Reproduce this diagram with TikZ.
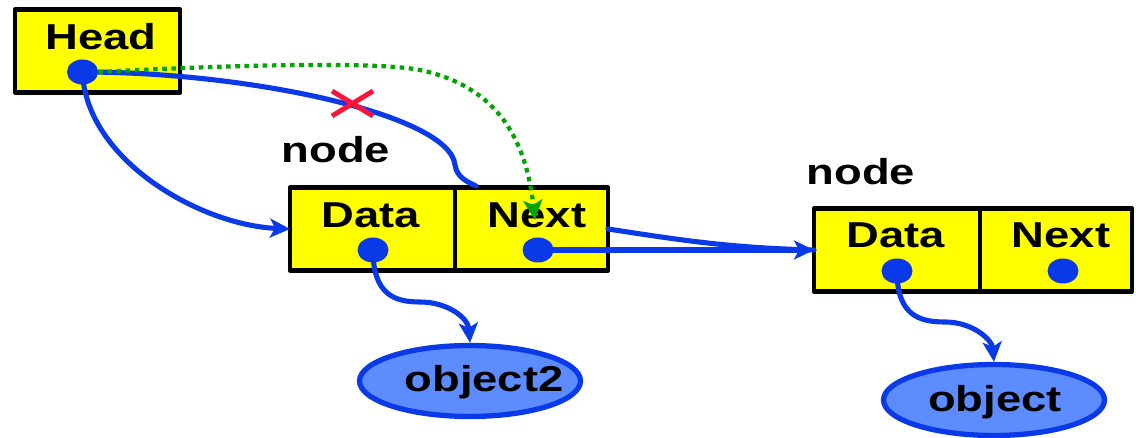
\documentclass[tikz,border=0pt]{standalone}
\usepackage{fontspec}
\setmainfont{Liberation Sans}[FakeStretch=1.26]
\usetikzlibrary{positioning,shapes.geometric,arrows.meta}
\begin{document}
\begin{tikzpicture}[x=0.02cm, y=-0.02cm, >={Stealth[length=0.4cm,width=0.38cm,inset=0.1cm]}, font=\fontsize{20.5}{24}\selectfont\bfseries, line join=round, line cap=round]
	\definecolor{ptr blue}{RGB}{10,58,232}
	\definecolor{cell yellow}{RGB}{255,255,0}
	\definecolor{obj fill}{RGB}{92,140,255}
	\definecolor{new link}{RGB}{0,165,0}
	\definecolor{cut red}{RGB}{250,20,60}
	\tikzset{cell/.style={rectangle, draw=black, fill=cell yellow, line width=2.7pt, inner sep=0pt, outer sep=0pt, minimum height=1.66cm},
		dot/.style={ellipse, fill=ptr blue, inner sep=0pt, minimum width=0.62cm, minimum height=0.5cm},
		obj/.style={ellipse, draw=ptr blue, fill=obj fill, line width=3pt, inner sep=0pt, minimum width=4.42cm, minimum height=1.42cm},
		link/.style={draw=ptr blue, line width=2.9pt},
		lbl/.style={anchor=base, inner sep=0pt}}
	\useasboundingbox (0,0) rectangle (1136,438);
	% cells
	\node[cell, minimum width=3.3cm] (head) at (97.5,51) {};
	\node[cell, minimum width=3.3cm] (data1) at (372.5,229) {};
	\node[cell, minimum width=3.06cm, right=0pt of data1] (next1) {};
	\node[cell, minimum width=3.32cm] (data2) at (897,250) {};
	\node[cell, minimum width=3.04cm, right=0pt of data2] (next2) {};
	\node[lbl] (headtxt) at (101,50) {Head};
	\node[lbl] (d1txt) at (371,228) {Data};
	\node[lbl] (n1txt) at (537,228) {Next};
	\node[lbl] (d2txt) at (896,248) {Data};
	\node[lbl] (n2txt) at (1061,248) {Next};
	\node[lbl] (node1) at (336,163) {node};
	\node[lbl] (node2) at (861,185) {node};
	% objects
	\node[obj] (obj2) at (470,381) {};
	\node[obj] (obj1) at (994,400) {};
	\node[lbl] (o2txt) at (484,392) {object2};
	\node[lbl] (o1txt) at (995,412) {object};
	% pointers
	\node[dot] (hd) at (82.5,72) {};
	\node[dot] (dd1) at (373,250) {};
	\node[dot] (nd1) at (538,250) {};
	\node[dot] (dd2) at (897,271) {};
	\node[dot] (nd2) at (1063,271) {};
	\coordinate (oldend) at (476,186);
	\coordinate (newend) at (535,220);
	\draw[link,->] (hd.center) .. controls (86,160) and (200,225) .. (data1.west);
	\draw[link] (hd.center) .. controls (250,72) and (450,115) .. (455,165)
		.. controls (457,178) and (468,182) .. (oldend);
	\draw[cut red, line width=2.8pt, line cap=butt] (332,91) -- (373,116) (332,116) -- (373,91);
	\draw[new link, line width=2.4pt, line cap=butt, dash pattern=on 2.6pt off 2.6pt, ->] (hd.east) .. controls (250,64) and (380,62) .. (420,70)
		.. controls (490,85) and (525,130) .. (newend);
	\draw[link] (next1.east) .. controls (680,240) and (730,248) .. (data2.west);
	\draw[link,->] (nd1.center) -- (data2.west);
	\draw[link,->] (dd1.center) .. controls (373,295) and (395,302) .. (420,302)
		.. controls (448,302) and (468,318) .. (obj2.north);
	\draw[link,->] (dd2.center) .. controls (897,316) and (920,322) .. (945,322)
		.. controls (973,322) and (992,340) .. (obj1.north);
\end{tikzpicture}
\end{document}
